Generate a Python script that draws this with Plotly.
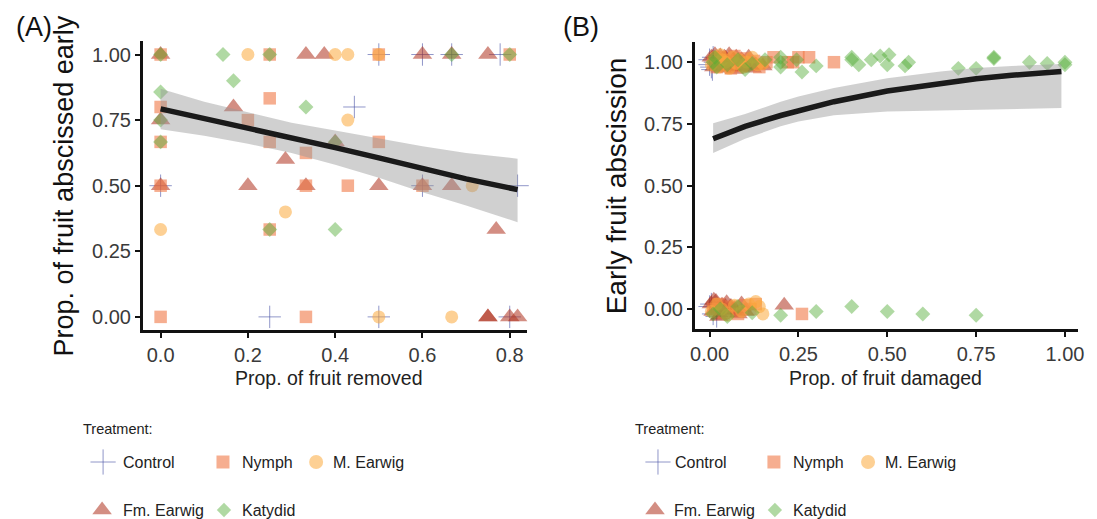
import plotly.graph_objects as go

W, H = 1097, 519
FONT = "Liberation Sans, Arial, sans-serif"

treatments = ["Control", "Nymph", "M. Earwig", "Fm. Earwig", "Katydid"]
colors = {
    "Control": "rgba(70,80,165,0.6)",
    "Nymph": "rgba(240,120,70,0.6)",
    "M. Earwig": "rgba(252,170,60,0.55)",
    "Fm. Earwig": "rgba(175,50,30,0.55)",
    "Katydid": "rgba(80,170,50,0.45)",
}
symbols = {"Control": "cross-thin", "Nymph": "square", "M. Earwig": "circle",
           "Fm. Earwig": "triangle-up", "Katydid": "diamond"}
sizes = {"Control": 16, "Nymph": 12.5, "M. Earwig": 13, "Fm. Earwig": 17, "Katydid": 11.5}

# ---------------- Panel A data ----------------
a_control_x = [0.0, 0.444, 0.5, 0.6, 0.667, 0.778, 0.6, 0.818, 0.25, 0.5, 0.8]
a_control_y = [0.5, 0.8, 1.0, 1.0, 1.0, 1.0, 0.5, 0.5, 0.0, 0.0, 0.0]
a_nymph_x = [0.0, 0.25, 0.5, 0.8, 0.25, 0.0, 0.2, 0.0, 0.25, 0.5, 0.333, 0.333, 0.429, 0.6, 0.25, 0.0, 0.333, 0.0]
a_nymph_y = [1.0, 1.0, 1.0, 1.0, 0.833, 0.8, 0.75, 0.667, 0.667, 0.667, 0.625, 0.5, 0.5, 0.5, 0.333, 0.0, 0.0, 0.5]
a_mearwig_x = [0.2, 0.4, 0.429, 0.5, 0.429, 0.714, 0.286, 0.0, 0.5, 0.667]
a_mearwig_y = [1.0, 1.0, 1.0, 1.0, 0.75, 0.5, 0.4, 0.333, 0.0, 0.0]
a_fmearwig_x = [0.0, 0.333, 0.375, 0.6, 0.667, 0.75, 0.167, 0.0, 0.4, 0.286, 0.0, 0.2, 0.333, 0.5, 0.6, 0.667, 0.769, 0.75, 0.75, 0.8, 0.818]
a_fmearwig_y = [1.0, 1.0, 1.0, 1.0, 1.0, 1.0, 0.8, 0.75, 0.667, 0.6, 0.5, 0.5, 0.5, 0.5, 0.5, 0.5, 0.333, 0.0, 0.0, 0.0, 0.0]
a_katydid_x = [0.0, 0.143, 0.25, 0.667, 0.8, 0.167, 0.0, 0.333, 0.0, 0.0, 0.25, 0.4, 0.4]
a_katydid_y = [1.0, 1.0, 1.0, 1.0, 1.0, 0.9, 0.857, 0.8, 0.75, 0.667, 0.333, 0.333, 0.667]

a_fit_x = [0.0, 0.1, 0.2, 0.3, 0.4, 0.5, 0.6, 0.7, 0.818]
a_fit_y = [0.793, 0.757, 0.720, 0.683, 0.645, 0.606, 0.566, 0.526, 0.485]
a_fit_hi = [0.870, 0.820, 0.780, 0.740, 0.710, 0.680, 0.650, 0.625, 0.603]
a_fit_lo = [0.715, 0.690, 0.660, 0.625, 0.580, 0.530, 0.475, 0.425, 0.361]

# ---------------- Panel B data ----------------
b_control_x = [0.0, 0.005, 0.01, 0.0, 0.015, 0.008, 0.0, 0.01, 0.005, 0.02]
b_control_y = [1.01, 0.98, 1.02, 0.99, 1.0, 0.97, 0.01, -0.02, 0.02, -0.03]
b_fmearwig_x = [0.005, 0.012, 0.02, 0.025, 0.03, 0.035, 0.04, 0.045, 0.05, 0.055, 0.06, 0.065, 0.07, 0.075,
                0.08, 0.085, 0.09, 0.095, 0.1, 0.11, 0.12, 0.13, 0.015, 0.028, 0.042, 0.058, 0.068, 0.15,
                0.005, 0.01, 0.018, 0.022, 0.03, 0.035, 0.04, 0.048, 0.055, 0.06, 0.07, 0.08, 0.09, 0.1,
                0.012, 0.026, 0.044, 0.065, 0.21]
b_fmearwig_y = [1.02, 0.98, 1.01, 0.99, 1.025, 0.975, 1.0, 1.015, 0.985, 1.03, 0.99, 1.005, 0.97, 1.02,
                0.995, 0.98, 1.01, 1.0, 0.985, 1.02, 0.975, 0.99, 1.03, 0.995, 1.02, 0.98, 1.01, 0.985,
                0.02, -0.01, 0.03, 0.0, -0.025, 0.015, -0.005, 0.025, -0.015, 0.01, 0.0, -0.02, 0.02, -0.01,
                0.035, -0.03, 0.01, -0.005, 0.015]
b_nymph_x = [0.01, 0.02, 0.03, 0.04, 0.05, 0.06, 0.07, 0.08, 0.09, 0.1, 0.11, 0.125, 0.14, 0.16, 0.18,
             0.22, 0.235, 0.25, 0.28, 0.35,
             0.01, 0.025, 0.04, 0.06, 0.08, 0.1, 0.115, 0.13, 0.26]
b_nymph_y = [1.0, 0.98, 1.02, 0.99, 1.01, 0.975, 1.025, 1.0, 0.985, 1.015, 0.99, 1.005, 0.98, 1.0, 1.02,
             1.0, 1.0, 1.02, 1.02, 1.0,
             0.0, 0.02, -0.015, 0.01, -0.02, 0.015, 0.0, 0.02, -0.02]
b_mearwig_x = [0.005, 0.015, 0.025, 0.035, 0.045, 0.055, 0.065, 0.075, 0.085, 0.095, 0.105, 0.12, 0.135, 0.15, 0.03,
               0.005, 0.02, 0.035, 0.05, 0.07, 0.09, 0.11, 0.14, 0.15, 0.13]
b_mearwig_y = [0.99, 1.02, 0.98, 1.01, 1.0, 0.975, 1.02, 0.995, 1.01, 0.98, 1.0, 1.02, 0.99, 0.995, 1.03,
               -0.01, 0.02, 0.0, -0.025, 0.015, -0.01, 0.02, 0.01, -0.02, 0.03]
b_katydid_x = [0.01, 0.015, 0.02, 0.05, 0.08, 0.1, 0.12, 0.156, 0.2, 0.2, 0.2, 0.245, 0.26, 0.3, 0.4, 0.4,
               0.42, 0.455, 0.48, 0.5, 0.505, 0.55, 0.56, 0.7, 0.75, 0.8, 0.8, 0.9, 0.95, 1.0, 1.0,
               0.01, 0.03, 0.05, 0.08, 0.12, 0.2, 0.3, 0.4, 0.5, 0.6, 0.75]
b_katydid_y = [1.0, 1.02, 0.98, 0.99, 1.01, 0.97, 0.995, 1.01, 1.0, 1.02, 0.98, 1.01, 0.96, 0.985, 1.02, 1.01,
               0.99, 1.01, 1.025, 0.99, 1.03, 0.985, 1.0, 0.975, 0.975, 1.02, 1.015, 1.0, 0.995, 1.0, 0.99,
               -0.02, 0.0, -0.03, 0.01, -0.015, -0.025, -0.01, 0.01, -0.01, -0.02, -0.025]

b_fit_x = [0.01, 0.1, 0.2, 0.25, 0.35, 0.5, 0.65, 0.75, 0.85, 0.99]
b_fit_y = [0.690, 0.740, 0.784, 0.804, 0.840, 0.883, 0.916, 0.933, 0.947, 0.962]
b_fit_hi = [0.753, 0.790, 0.840, 0.861, 0.895, 0.935, 0.962, 0.976, 0.985, 0.993]
b_fit_lo = [0.632, 0.690, 0.740, 0.760, 0.785, 0.800, 0.805, 0.807, 0.810, 0.814]

y_ticks = [0.0, 0.25, 0.5, 0.75, 1.0]
y_tick_labels = ["0.00", "0.25", "0.50", "0.75", "1.00"]
a_x_ticks = [0.0, 0.2, 0.4, 0.6, 0.8]
a_x_tick_labels = ["0.0", "0.2", "0.4", "0.6", "0.8"]
b_x_ticks = [0.0, 0.25, 0.5, 0.75, 1.0]
b_x_tick_labels = ["0.00", "0.25", "0.50", "0.75", "1.00"]

panel_a = {
    "Control": (a_control_x, a_control_y), "Nymph": (a_nymph_x, a_nymph_y),
    "M. Earwig": (a_mearwig_x, a_mearwig_y), "Fm. Earwig": (a_fmearwig_x, a_fmearwig_y),
    "Katydid": (a_katydid_x, a_katydid_y),
}
panel_b = {
    "Control": (b_control_x, b_control_y), "Nymph": (b_nymph_x, b_nymph_y),
    "M. Earwig": (b_mearwig_x, b_mearwig_y), "Fm. Earwig": (b_fmearwig_x, b_fmearwig_y),
    "Katydid": (b_katydid_x, b_katydid_y),
}

def px(x):
    return x / W

def py(y):
    return 1 - y / H

fig = go.Figure()

def marker_for(t, size=None):
    s = size if size is not None else sizes[t]
    if t == "Control":
        return dict(symbol="cross-thin", size=s, color=colors[t],
                    line=dict(color=colors[t], width=1))
    return dict(symbol=symbols[t], size=s, color=colors[t], line=dict(width=0))

for xa, ya, data in (("x", "y", panel_a), ("x2", "y2", panel_b)):
    for t in ["Control", "Fm. Earwig", "Nymph", "M. Earwig", "Katydid"]:
        xs, ys = data[t]
        fig.add_trace(go.Scatter(x=xs, y=ys, mode="markers", marker=marker_for(t),
                                 xaxis=xa, yaxis=ya, showlegend=False, hoverinfo="skip",
                                 cliponaxis=False))

for xa, ya, fx, fy, fhi, flo in (("x", "y", a_fit_x, a_fit_y, a_fit_hi, a_fit_lo),
                                 ("x2", "y2", b_fit_x, b_fit_y, b_fit_hi, b_fit_lo)):
    fig.add_trace(go.Scatter(x=fx + fx[::-1], y=fhi + flo[::-1], fill="toself",
                             fillcolor="rgba(150,150,150,0.45)", line=dict(width=0),
                             mode="lines", xaxis=xa, yaxis=ya, showlegend=False, hoverinfo="skip"))
    fig.add_trace(go.Scatter(x=fx, y=fy, mode="lines", line=dict(color="#1a1a1a", width=5.5),
                             xaxis=xa, yaxis=ya, showlegend=False, hoverinfo="skip"))

# ----- legends (drawn on an overlay pixel axis) -----
legend_rows = {
    "A": [("Control", 100, 462, 118), ("Nymph", 221, 462, 238), ("M. Earwig", 315, 462, 330),
          ("Fm. Earwig", 99, 510, 118), ("Katydid", 222, 510, 238)],
    "B": [("Control", 660, 462, 675), ("Nymph", 777, 462, 794), ("M. Earwig", 872, 462, 887),
          ("Fm. Earwig", 657, 510, 674), ("Katydid", 778, 510, 794)],
}
leg_sizes = {"Control": 18, "Nymph": 13, "M. Earwig": 14, "Fm. Earwig": 17, "Katydid": 11}
annotations = []
for key, rows in legend_rows.items():
    for t, mx, my, tx in rows:
        fig.add_trace(go.Scatter(x=[mx], y=[my], mode="markers", marker=marker_for(t, leg_sizes[t]),
                                 xaxis="x3", yaxis="y3", showlegend=False, hoverinfo="skip",
                                 cliponaxis=False))
        annotations.append(dict(x=px(tx), y=py(my), xref="paper", yref="paper", text=t,
                                showarrow=False, xanchor="left", yanchor="middle",
                                font=dict(family=FONT, size=16, color="#222222")))
for tx in (78, 635):
    annotations.append(dict(x=px(tx), y=py(429), xref="paper", yref="paper", text="Treatment:",
                            showarrow=False, xanchor="left", yanchor="middle",
                            font=dict(family=FONT, size=14.5, color="#222222")))

# axis titles and panel labels
annotations += [
    dict(x=px(61), y=py(186), xref="paper", yref="paper", text="Prop. of fruit abscissed early",
         textangle=-90, showarrow=False, xanchor="center", yanchor="middle",
         font=dict(family=FONT, size=27, color="#111111")),
    dict(x=px(619), y=py(186), xref="paper", yref="paper", text="Early fruit abscission",
         textangle=-90, showarrow=False, xanchor="center", yanchor="middle",
         font=dict(family=FONT, size=28, color="#111111")),
    dict(x=px(328), y=py(378), xref="paper", yref="paper", text="Prop. of fruit removed",
         showarrow=False, xanchor="center", yanchor="middle",
         font=dict(family=FONT, size=19.5, color="#222222")),
    dict(x=px(890), y=py(378), xref="paper", yref="paper", text="Prop. of fruit damaged",
         showarrow=False, xanchor="center", yanchor="middle",
         font=dict(family=FONT, size=19.5, color="#222222")),
    dict(x=px(10), y=py(27), xref="paper", yref="paper", text="(A)",
         showarrow=False, xanchor="left", yanchor="middle",
         font=dict(family=FONT, size=27, color="#111111")),
    dict(x=px(562), y=py(27), xref="paper", yref="paper", text="(B)",
         showarrow=False, xanchor="left", yanchor="middle",
         font=dict(family=FONT, size=27, color="#111111")),
]

axis_common = dict(showline=True, linecolor="#111111", linewidth=2.5, ticks="outside",
                   ticklen=5, tickwidth=2, tickcolor="#111111", showgrid=False, zeroline=False,
                   tickfont=dict(family=FONT, size=20, color="#3a3a3a"), mirror=False)

fig.update_layout(
    width=W, height=H, autosize=False,
    margin=dict(l=0, r=0, t=0, b=0),
    paper_bgcolor="white", plot_bgcolor="rgba(0,0,0,0)",
    showlegend=False,
    xaxis=dict(domain=[px(140), px(528)], range=[-0.041, 0.84], anchor="y",
               tickvals=a_x_ticks, ticktext=a_x_tick_labels, **axis_common),
    yaxis=dict(domain=[py(330), py(41.4)], range=[-0.05, 1.05], anchor="x",
               tickvals=y_ticks, ticktext=y_tick_labels, **axis_common),
    xaxis2=dict(domain=[px(697), px(1084)], range=[-0.042, 1.037], anchor="y2",
                tickvals=b_x_ticks, ticktext=b_x_tick_labels, **axis_common),
    yaxis2=dict(domain=[py(329), py(41.7)], range=[-0.081, 1.083], anchor="x2",
                tickvals=y_ticks, ticktext=y_tick_labels, **axis_common),
    xaxis3=dict(domain=[0, 1], range=[0, W], visible=False, anchor="y3", fixedrange=True),
    yaxis3=dict(domain=[0, 1], range=[H, 0], visible=False, anchor="x3", fixedrange=True),
    annotations=annotations,
)

fig.write_html("out.html")
